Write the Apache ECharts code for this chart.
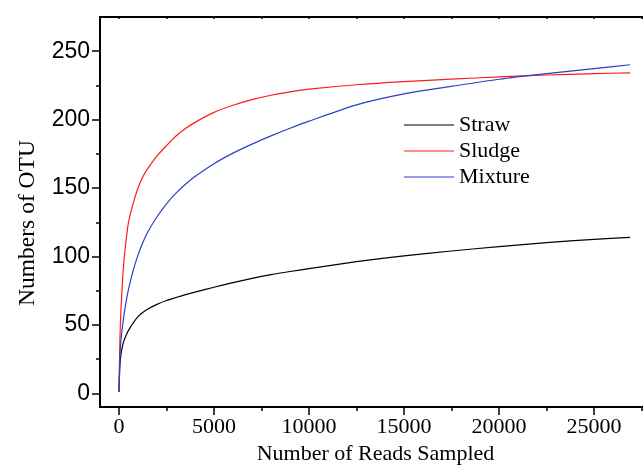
<!DOCTYPE html>
<html>
<head>
<meta charset="utf-8">
<script src="https://cdn.jsdelivr.net/npm/echarts@6/dist/echarts.min.js"></script>
<style>
  html, body { margin: 0; padding: 0; background: #fff; }
  #chart { width: 643px; height: 465px; }
</style>
</head>
<body>
<div id="chart"></div>
<script>
// Rarefaction curves: OTUs observed vs. number of reads sampled
const readsSampled = [0, 50, 100, 175, 250, 375, 500, 750, 1000, 1250, 1500, 2000, 2500, 3000, 3500, 4000,
  5000, 6000, 7000, 8000, 9000, 10000, 12500, 15000, 17500, 20000, 22500, 25000, 26900];
const straw = [1, 21, 28, 34, 38, 42.5, 46, 51.5, 56, 59, 61.5, 65, 67.8, 70, 72.1, 74,
  77.5, 80.9, 84, 86.7, 89, 91.1, 96.2, 100.5, 104, 107.2, 110.1, 112.5, 114];
const sludge = [1, 40, 60, 80, 95, 112, 125, 139, 150, 158, 164, 173.5, 181, 188, 193.5, 198,
  205.3, 210.5, 214.6, 217.8, 220.3, 222.3, 225.5, 227.8, 229.6, 231.2, 232.6, 233.6, 234.2];
const mixture = [1, 28, 38, 48, 56, 67, 76, 90, 101, 110, 117.5, 129, 138.5, 146.3, 152.8, 158.4,
  167.8, 175.5, 182.1, 188.1, 193.7, 198.9, 210.8, 218.8, 224.3, 229.5, 233.6, 237.3, 240.1];

const seriesNames = ['Straw', 'Sludge', 'Mixture'];
const seriesColors = ['#000000', '#ff1a1a', '#2c3fc4'];

const xMajorTicks = [0, 5000, 10000, 15000, 20000, 25000];
const xMinorTicks = [2500, 7500, 12500, 17500, 22500, 27500];
const yMajorTicks = [0, 50, 100, 150, 200, 250];
const yMinorTicks = [25, 75, 125, 175, 225];

const xRange = [-1000, 28000];
const yRange = [-10, 275];

const toPairs = (ys) => readsSampled.map((x, i) => [x, ys[i]]);

const chart = echarts.init(document.getElementById('chart'), null, { renderer: 'canvas' });

const serifFont = '"Liberation Serif", "Times New Roman", serif';
const sansFont = '"Liberation Sans", Arial, sans-serif';
const axisColor = '#000';
const plain = (v) => String(v);

chart.setOption({
  animation: false,
  backgroundColor: '#fff',
  grid: { left: 100, top: 17, right: -8, bottom: 58, outerBoundsMode: 'none', containLabel: false },
  legend: {
    orient: 'vertical',
    left: 404,
    top: 114,
    padding: 0,
    itemWidth: 50,
    itemHeight: 1.2,
    itemGap: 4,
    icon: 'rect',
    data: seriesNames,
    textStyle: { fontFamily: serifFont, fontSize: 22, color: '#000' }
  },
  xAxis: [
    {
      type: 'value', position: 'bottom', min: xRange[0], max: xRange[1],
      name: 'Number of Reads Sampled', nameLocation: 'middle', nameGap: 34,
      nameTextStyle: { fontFamily: serifFont, fontSize: 22, color: '#000' },
      axisLine: { show: true, onZero: false, lineStyle: { color: axisColor, width: 2 } },
      axisTick: { show: true, inside: false, length: 8, customValues: xMajorTicks,
        lineStyle: { color: axisColor, width: 1.5 } },
      axisLabel: { customValues: xMajorTicks, formatter: plain, margin: 9,
        fontFamily: serifFont, fontSize: 22, color: '#000' },
      splitLine: { show: false }
    },
    {
      type: 'value', position: 'bottom', min: xRange[0], max: xRange[1],
      axisLine: { show: false, onZero: false },
      axisTick: { show: true, inside: false, length: 4, customValues: xMinorTicks,
        lineStyle: { color: axisColor, width: 1.5 } },
      axisLabel: { show: false },
      splitLine: { show: false }
    },
    {
      type: 'value', position: 'top', min: xRange[0], max: xRange[1],
      axisLine: { show: true, onZero: false, lineStyle: { color: axisColor, width: 2 } },
      axisTick: { show: true, inside: true, length: 2,
        customValues: xMajorTicks.concat(xMinorTicks),
        lineStyle: { color: axisColor, width: 1.5 } },
      axisLabel: { show: false },
      splitLine: { show: false }
    }
  ],
  yAxis: [
    {
      type: 'value', position: 'left', min: yRange[0], max: yRange[1],
      name: 'Numbers of OTU', nameLocation: 'middle', nameGap: 60,
      nameTextStyle: { fontFamily: serifFont, fontSize: 23.5, color: '#000', padding: [0, 22, 0, 0] },
      axisLine: { show: true, onZero: false, lineStyle: { color: axisColor, width: 2 } },
      axisTick: { show: true, inside: false, length: 8, customValues: yMajorTicks,
        lineStyle: { color: axisColor, width: 1.5 } },
      axisLabel: { customValues: yMajorTicks, formatter: plain, margin: 10,
        fontFamily: sansFont, fontSize: 23, color: '#000' },
      splitLine: { show: false }
    },
    {
      type: 'value', position: 'left', min: yRange[0], max: yRange[1],
      axisLine: { show: false, onZero: false },
      axisTick: { show: true, inside: false, length: 4, customValues: yMinorTicks,
        lineStyle: { color: axisColor, width: 1.5 } },
      axisLabel: { show: false },
      splitLine: { show: false }
    }
  ],
  series: [straw, sludge, mixture].map((values, i) => ({
    name: seriesNames[i],
    type: 'line',
    xAxisIndex: 0,
    yAxisIndex: 0,
    data: toPairs(values),
    smooth: 0.25,
    showSymbol: false,
    symbol: 'none',
    color: seriesColors[i],
    lineStyle: { color: seriesColors[i], width: 1.2 },
    clip: true
  }))
});
</script>
</body>
</html>
